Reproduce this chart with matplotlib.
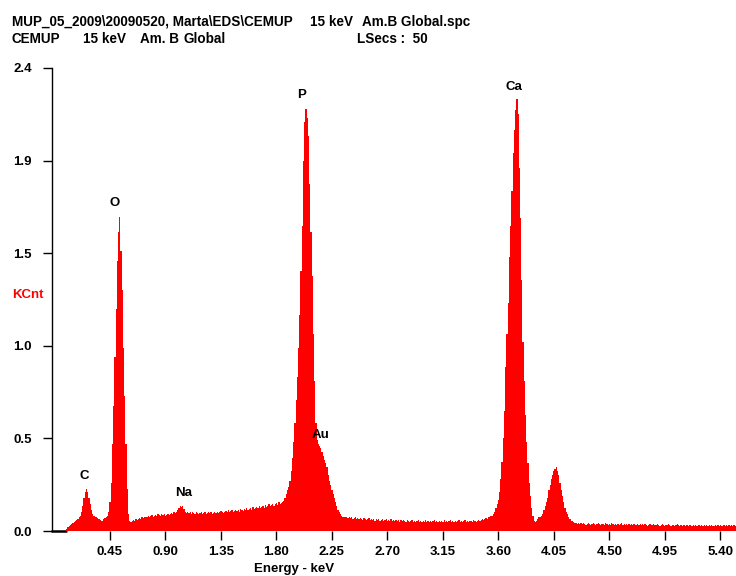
import numpy as np
import matplotlib
matplotlib.use("Agg")
import matplotlib.pyplot as plt

plt.rcParams['font.family'] = ['Liberation Sans', 'DejaVu Sans']
plt.rcParams['font.weight'] = 'bold'

# ---- data: EDS spectrum, 10 eV channels starting at 0.08 keV (KCnt) ----
energy_start_kev = 0.08
channel_width_kev = 0.01

counts_0 = [  # 0.08 - 1.07 keV
    0.00, 0.00, 0.01, 0.02, 0.025, 0.03, 0.035, 0.04, 0.045, 0.05,
    0.055, 0.06, 0.07, 0.08, 0.10, 0.13, 0.17, 0.20, 0.22, 0.20,
    0.17, 0.14, 0.11, 0.09, 0.08, 0.075, 0.07, 0.065, 0.06, 0.055,
    0.05, 0.05, 0.06, 0.065, 0.07, 0.08, 0.10, 0.15, 0.25, 0.45,
    0.65, 0.90, 1.15, 1.40, 1.55, 1.63, 1.45, 1.25, 0.95, 0.70,
    0.45, 0.22, 0.09, 0.05, 0.045, 0.05, 0.055, 0.05, 0.06, 0.055,
    0.06, 0.065, 0.06, 0.07, 0.065, 0.07, 0.075, 0.07, 0.08, 0.075,
    0.08, 0.085, 0.07, 0.08, 0.085, 0.08, 0.09, 0.085, 0.08, 0.09,
    0.085, 0.09, 0.08, 0.085, 0.09, 0.085, 0.09, 0.095, 0.09, 0.10,
    0.095, 0.10, 0.11, 0.12, 0.13, 0.125, 0.13, 0.115, 0.10, 0.095,
]
counts_1 = [  # 1.08 - 2.07 keV
    0.10, 0.095, 0.10, 0.09, 0.10, 0.095, 0.09, 0.10, 0.095, 0.09,
    0.095, 0.10, 0.09, 0.095, 0.10, 0.09, 0.095, 0.10, 0.095, 0.10,
    0.09, 0.095, 0.10, 0.095, 0.10, 0.095, 0.10, 0.105, 0.10, 0.095,
    0.10, 0.105, 0.10, 0.11, 0.10, 0.105, 0.11, 0.10, 0.105, 0.11,
    0.105, 0.11, 0.10, 0.115, 0.11, 0.105, 0.115, 0.11, 0.12, 0.11,
    0.115, 0.12, 0.11, 0.125, 0.115, 0.12, 0.125, 0.12, 0.13, 0.12,
    0.125, 0.13, 0.12, 0.135, 0.125, 0.13, 0.14, 0.13, 0.135, 0.14,
    0.13, 0.14, 0.145, 0.135, 0.15, 0.14, 0.145, 0.15, 0.155, 0.17,
    0.19, 0.21, 0.23, 0.26, 0.31, 0.38, 0.46, 0.56, 0.68, 0.80,
    0.95, 1.12, 1.35, 1.58, 1.92, 2.12, 2.19, 2.14, 2.05, 1.80,
]
counts_2 = [  # 2.08 - 3.07 keV
    1.55, 1.32, 1.02, 0.78, 0.56, 0.47, 0.45, 0.44, 0.43, 0.41,
    0.39, 0.37, 0.35, 0.33, 0.29, 0.26, 0.24, 0.21, 0.19, 0.17,
    0.15, 0.13, 0.11, 0.10, 0.09, 0.08, 0.075, 0.07, 0.075, 0.07,
    0.065, 0.07, 0.065, 0.07, 0.06, 0.065, 0.07, 0.06, 0.065, 0.06,
    0.065, 0.06, 0.055, 0.065, 0.06, 0.055, 0.06, 0.065, 0.055, 0.06,
    0.055, 0.06, 0.05, 0.06, 0.055, 0.06, 0.05, 0.055, 0.06, 0.05,
    0.055, 0.06, 0.05, 0.055, 0.05, 0.06, 0.05, 0.055, 0.05, 0.055,
    0.05, 0.055, 0.045, 0.055, 0.05, 0.055, 0.05, 0.045, 0.055, 0.05,
    0.045, 0.05, 0.055, 0.045, 0.05, 0.045, 0.05, 0.055, 0.045, 0.05,
    0.045, 0.05, 0.045, 0.055, 0.045, 0.05, 0.045, 0.05, 0.045, 0.05,
]
counts_3 = [  # 3.08 - 4.07 keV
    0.055, 0.045, 0.05, 0.045, 0.05, 0.045, 0.05, 0.045, 0.055, 0.045,
    0.05, 0.045, 0.05, 0.055, 0.045, 0.05, 0.045, 0.05, 0.045, 0.05,
    0.055, 0.045, 0.05, 0.045, 0.05, 0.055, 0.045, 0.05, 0.045, 0.05,
    0.05, 0.045, 0.055, 0.05, 0.045, 0.05, 0.055, 0.05, 0.055, 0.06,
    0.055, 0.06, 0.065, 0.06, 0.07, 0.07, 0.08, 0.08, 0.09, 0.10,
    0.12, 0.14, 0.16, 0.20, 0.27, 0.36, 0.48, 0.62, 0.85, 1.02,
    1.18, 1.42, 1.58, 1.76, 1.96, 2.08, 2.18, 2.24, 2.16, 1.88,
    1.62, 1.30, 0.98, 0.78, 0.60, 0.46, 0.35, 0.25, 0.18, 0.12,
    0.08, 0.05, 0.045, 0.05, 0.06, 0.07, 0.075, 0.08, 0.09, 0.11,
    0.13, 0.15, 0.17, 0.21, 0.24, 0.27, 0.29, 0.31, 0.32, 0.33,
]
counts_4 = [  # 4.08 - 5.54 keV
    0.31, 0.29, 0.25, 0.21, 0.18, 0.15, 0.12, 0.10, 0.09, 0.07,
    0.06, 0.05, 0.05, 0.045, 0.04, 0.04, 0.035, 0.04, 0.035, 0.04,
    0.035, 0.04, 0.035, 0.03, 0.035, 0.04, 0.035, 0.03, 0.035, 0.04,
    0.035, 0.03, 0.035, 0.04, 0.035, 0.03, 0.035, 0.035, 0.03, 0.04,
    0.035, 0.03, 0.035, 0.03, 0.04, 0.035, 0.03, 0.035, 0.03, 0.035,
    0.03, 0.035, 0.04, 0.03, 0.035, 0.03, 0.035, 0.03, 0.035, 0.03,
    0.035, 0.03, 0.035, 0.03, 0.03, 0.035, 0.03, 0.035, 0.03, 0.035,
    0.03, 0.035, 0.03, 0.025, 0.03, 0.035, 0.03, 0.03, 0.035, 0.03,
    0.03, 0.035, 0.03, 0.025, 0.03, 0.035, 0.03, 0.025, 0.03, 0.03,
    0.035, 0.03, 0.025, 0.03, 0.03, 0.025, 0.03, 0.035, 0.03, 0.025,
    0.03, 0.025, 0.03, 0.03, 0.025, 0.03, 0.025, 0.03, 0.03, 0.025,
    0.03, 0.025, 0.03, 0.025, 0.03, 0.03, 0.025, 0.03, 0.025, 0.03,
    0.025, 0.03, 0.025, 0.03, 0.025, 0.03, 0.025, 0.025, 0.03, 0.025,
    0.03, 0.025, 0.03, 0.025, 0.025, 0.03, 0.025, 0.03, 0.025, 0.03,
    0.025, 0.03, 0.025, 0.03, 0.025, 0.03, 0.025,
]

peak_labels = ["C", "O", "Na", "P", "Au", "Ca"]
peak_label_x = [0.24, 0.49, 1.05, 2.00, 2.16, 3.73]
peak_label_y = [0.285, 1.70, 0.197, 2.26, 0.50, 2.30]

x_ticks = [0.45, 0.90, 1.35, 1.80, 2.25, 2.70, 3.15, 3.60, 4.05, 4.50, 4.95, 5.40]
x_tick_labels = ["0.45", "0.90", "1.35", "1.80", "2.25", "2.70", "3.15",
                 "3.60", "4.05", "4.50", "4.95", "5.40"]
y_ticks = [0.0, 0.48, 0.96, 1.44, 1.92, 2.4]
y_tick_labels = ["0.0", "0.5", "1.0", "1.5", "1.9", "2.4"]

# ---- build ----
counts = np.array(counts_0 + counts_1 + counts_2 + counts_3 + counts_4)
energy = energy_start_kev + channel_width_kev * np.arange(len(counts))

W, H = 736, 576
fig = plt.figure(figsize=(W / 100, H / 100), dpi=100)
ax = fig.add_axes([52 / W, 45 / H, (W - 52) / W, 463 / H])

ax.bar(energy, counts, width=channel_width_kev * 1.02, color='#ff0000',
       lw=0, antialiased=False, zorder=3)
ax.plot([-0.03, energy_start_kev + 0.02], [0, 0], color='black', lw=1.8,
        zorder=2, clip_on=False, solid_capstyle='butt')

ax.set_xlim(-0.0203, 5.527)
ax.set_ylim(0, 2.4)

for s in ['top', 'right', 'bottom']:
    ax.spines[s].set_visible(False)
ax.spines['left'].set_linewidth(1.0)
ax.spines['left'].set_color('black')

ax.set_xticks(x_ticks)
ax.set_xticklabels(x_tick_labels)
ax.set_yticks(y_ticks)
ax.set_yticklabels(y_tick_labels)
ax.tick_params(axis='both', direction='out', length=6.5, width=1.0,
               colors='black', labelsize=9.5)
ax.tick_params(axis='y', pad=8)
ax.tick_params(axis='x', pad=4)
for lab in ax.get_xticklabels() + ax.get_yticklabels():
    lab.set_fontweight('bold')

for t, x, y in zip(peak_labels, peak_label_x, peak_label_y):
    ax.text(x, y, t, ha='center', va='center', fontsize=9.5,
            fontweight='bold', color='black', zorder=5)

fig.text(294 / W, 1 - 569 / H, "Energy - keV", ha='center', va='center',
         fontsize=9.5, fontweight='bold')
fig.text(12 / W, 1 - 295 / H, "KCnt", ha='left', va='center', fontsize=9.5,
         fontweight='bold', color='#ff0000')

# header
fs = 9.75
y1, y2 = 1 - 22 / H, 1 - 39 / H
header = [
    (12, y1, "MUP_05_2009\\20090520, Marta\\EDS\\CEMUP"),
    (310, y1, "15 keV"),
    (362, y1, "Am.B Global.spc"),
    (12, y2, "CEMUP"),
    (83, y2, "15 keV"),
    (140, y2, "Am. B"),
    (184, y2, "Global"),
    (357, y2, "LSecs :  50"),
]
for px, yy, txt in header:
    fig.text(px / W, yy, txt, ha='left', va='center', fontsize=fs,
             fontweight='bold')

fig.savefig("out.png", dpi=100)
